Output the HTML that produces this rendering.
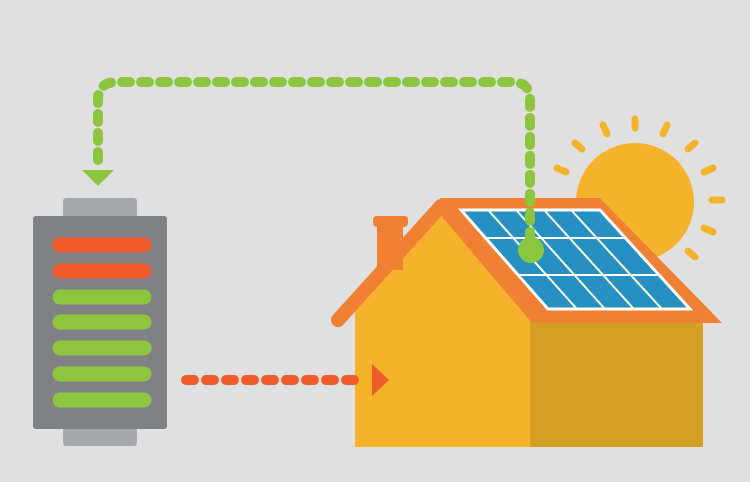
<!DOCTYPE html>
<html><head><style>html,body{margin:0;padding:0;background:#e0e0e0;}</style></head>
<body>
<svg width="750" height="477" viewBox="0 0 750 477" xmlns="http://www.w3.org/2000/svg">
<rect width="750" height="477" fill="#e0e0e1"/>
<!-- sun -->
<g stroke="#f4b32a" stroke-width="7" stroke-linecap="round">
<line x1="635" y1="119" x2="635" y2="128"/>
<line x1="603" y1="125" x2="607" y2="134"/>
<line x1="667" y1="125" x2="663" y2="134"/>
<line x1="575" y1="143" x2="582" y2="149"/>
<line x1="695" y1="143" x2="688" y2="149"/>
<line x1="557" y1="168" x2="566" y2="172"/>
<line x1="713" y1="168" x2="704" y2="172"/>
<line x1="712" y1="200" x2="722" y2="200"/>
<line x1="704" y1="228" x2="713" y2="232"/>
<line x1="688" y1="251" x2="695" y2="257"/>
</g>
<circle cx="635" cy="202" r="59" fill="#f4b32a"/>
<polygon points="82,170 114,170 98,186" fill="#8cc63f"/>
<!-- battery -->
<rect x="63" y="198" width="74" height="22" rx="3" fill="#a7a8ab"/>
<rect x="63" y="425" width="74" height="21" rx="3" fill="#a7a8ab"/>
<rect x="33" y="216" width="134" height="213" rx="3" fill="#808184"/>
<g stroke-width="15" stroke-linecap="round">
<line x1="60" y1="245" x2="144" y2="245" stroke="#f15a2b"/>
<line x1="60" y1="271" x2="144" y2="271" stroke="#f15a2b"/>
<line x1="60" y1="297" x2="144" y2="297" stroke="#8cc63f"/>
<line x1="60" y1="322" x2="144" y2="322" stroke="#8cc63f"/>
<line x1="60" y1="348" x2="144" y2="348" stroke="#8cc63f"/>
<line x1="60" y1="374" x2="144" y2="374" stroke="#8cc63f"/>
<line x1="60" y1="400" x2="144" y2="400" stroke="#8cc63f"/>
</g>
<!-- house -->
<rect x="530" y="318" width="173" height="129" fill="#d3a024"/>
<polygon points="355,447 355,300 443,212 530,312 530,447" fill="#f4b32a"/>
<polygon points="440,198 600,198 722,323 532,323 443,218" fill="#f08033"/>
<line x1="338" y1="320" x2="441" y2="206" stroke="#f08033" stroke-width="14" stroke-linecap="round"/>
<rect x="377" y="222" width="26" height="48" fill="#f08033"/>
<rect x="373" y="216" width="35" height="11" rx="4" fill="#f08033"/>
<!-- panel -->
<polygon points="461,210 600,210 690,309 548,309" fill="#2590c1" stroke="#fff" stroke-width="3"/>
<g stroke="#fff" stroke-width="2">
<line x1="486" y1="238" x2="625" y2="238"/>
<line x1="518" y1="275" x2="659" y2="275"/>
<line x1="489" y1="211" x2="576" y2="308"/>
<line x1="517" y1="211" x2="604" y2="308"/>
<line x1="545" y1="211" x2="633" y2="308"/>
<line x1="572" y1="211" x2="661" y2="308"/>
</g>
<!-- green path -->
<path d="M98,160 L98,100 Q98,82 117,82 L512,82 Q530,82 530,100 L530,240" fill="none" stroke="#8cc63f" stroke-width="10" stroke-linecap="round" stroke-dasharray="8,11"/>
<circle cx="531" cy="250" r="13" fill="#8cc63f"/>
<!-- orange arrow -->
<line x1="186" y1="380" x2="365" y2="380" stroke="#f15a2b" stroke-width="10" stroke-linecap="round" stroke-dasharray="8,12"/>
<polygon points="372,364 389,380 372,396" fill="#f15a2b"/>
</svg>
</body></html>
